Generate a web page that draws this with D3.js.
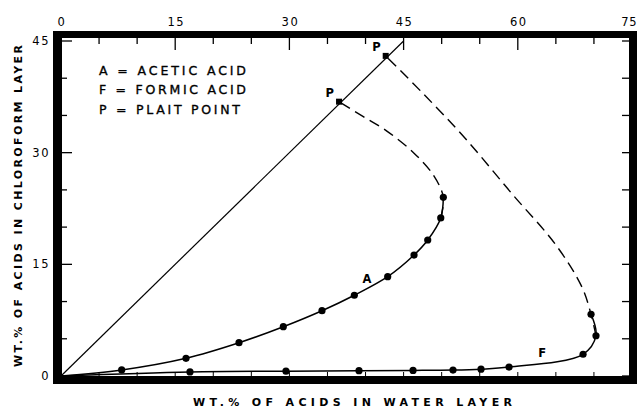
<!DOCTYPE html>
<html><head><meta charset="utf-8">
<script src="https://cdn.jsdelivr.net/npm/d3@7"></script>
<style>
html,body{margin:0;padding:0;background:#fff;}
svg{display:block;}
text{font-family:"DejaVu Sans",sans-serif;fill:#000;}
</style></head>
<body>
<svg id="chart" width="637" height="410"></svg>
<script>
// ---- data ----
const xTicks = [0, 15, 30, 45, 60, 75];
const yTicks = [0, 15, 30, 45];
const minorStep = 5;
const origin = [0, 0];
const aceticX = [7.97, 16.42, 23.38, 29.2, 34.28, 38.53, 42.91, 46.37, 48.17, 49.88, 50.22];
const aceticY = [0.81, 2.38, 4.47, 6.62, 8.77, 10.85, 13.34, 16.25, 18.27, 21.23, 24.0];
const aceticDashX = [50.22, 48.9, 46.3, 42.8, 39.6, 36.52];
const aceticDashY = [24.0, 27.0, 30.0, 32.9, 34.9, 36.85];
const formicX = [16.94, 29.55, 39.14, 46.24, 51.49, 55.17, 58.85, 68.57, 70.27, 69.62];
const formicY = [0.55, 0.65, 0.72, 0.75, 0.8, 0.92, 1.2, 2.92, 5.41, 8.29];
const formicDashX = [69.62, 68.4, 65.0, 59.3, 53.2, 47.6, 42.65];
const formicDashY = [8.29, 12.0, 17.6, 24.4, 31.8, 37.9, 43.0];
const plaitX = [36.52, 42.65];
const plaitY = [36.85, 43.0];
const tieX = [0, 45];
const tieY = [0, 45];
const legendLines = ["A = ACETIC ACID", "F = FORMIC ACID", "P = PLAIT POINT"];
const curveLabels = [{t:"A", x:40.2, y:12.5}, {t:"F", x:63.2, y:2.6}];
const xTitle = "WT.% OF ACIDS IN WATER LAYER";
const yTitle = "WT.% OF ACIDS IN CHLOROFORM LAYER";

// ---- layout ----
const L = 61, R = 632, T = 41, B = 376;
const svg = d3.select("#chart");
const x = d3.scaleLinear().domain([0, 75]).range([L, R]);
const y = d3.scaleLinear().domain([0, 45]).range([B, T]);
const zip = (xs, ys) => xs.map((v, i) => [v, ys[i]]);
const line = d3.line().x(d => x(d[0])).y(d => y(d[1])).curve(d3.curveCatmullRom.alpha(0.5));
const straight = d3.line().x(d => x(d[0])).y(d => y(d[1]));

// frame (thick bars outside plot area)
const g = svg.append("g");
g.append("rect").attr("x", 53).attr("y", 31).attr("width", 9).attr("height", 353);
g.append("rect").attr("x", 53).attr("y", 31).attr("width", 584).attr("height", 7);
g.append("rect").attr("x", 629).attr("y", 31).attr("width", 8).attr("height", 353);
g.append("rect").attr("x", 53).attr("y", 376).attr("width", 584).attr("height", 8);

const minorX = d3.range(0, 75 + 0.1, minorStep);
const minorY = d3.range(0, 45 + 0.1, minorStep);
// top ticks
g.selectAll(".tt").data(minorX).join("line")
  .attr("x1", d => x(d)).attr("x2", d => x(d))
  .attr("y1", 38).attr("y2", d => xTicks.includes(d) ? 50 : 44)
  .attr("stroke", "#000").attr("stroke-width", 1.3);
// bottom ticks
g.selectAll(".bt").data(minorX).join("line")
  .attr("x1", d => x(d)).attr("x2", d => x(d))
  .attr("y1", 376).attr("y2", 372)
  .attr("stroke", "#000").attr("stroke-width", 1);
// left ticks
g.selectAll(".lt").data(minorY).join("line")
  .attr("y1", d => y(d)).attr("y2", d => y(d))
  .attr("x1", 62).attr("x2", d => yTicks.includes(d) ? 72 : 67)
  .attr("stroke", "#000").attr("stroke-width", 1.3);
// right ticks
g.selectAll(".rt").data(minorY).join("line")
  .attr("y1", d => y(d)).attr("y2", d => y(d))
  .attr("x1", 629).attr("x2", 622)
  .attr("stroke", "#000").attr("stroke-width", 1.3);

// tick labels
const last = xTicks[xTicks.length - 1];
g.selectAll(".xl").data(xTicks).join("text")
  .attr("x", d => d === last ? 637 : x(d) + 1).attr("y", 26)
  .attr("text-anchor", d => d === last ? "end" : "middle")
  .attr("font-size", 11.5).attr("letter-spacing", d => d === last ? 0.5 : 1.5)
  .text(d => d);
g.selectAll(".yl").data(yTicks).join("text")
  .attr("x", 50).attr("y", d => y(d) + 4)
  .attr("text-anchor", "end").attr("font-size", 11.5).attr("letter-spacing", 1.5)
  .text(d => d);

// axis titles
g.append("text").attr("x", 193).attr("y", 406)
  .attr("font-size", 11).attr("font-weight", "bold")
  .attr("textLength", 319).attr("lengthAdjust", "spacing").text(xTitle);
g.append("text").attr("transform", "translate(22,367) rotate(-90)")
  .attr("font-size", 11).attr("font-weight", "bold")
  .attr("textLength", 322).attr("lengthAdjust", "spacing").text(yTitle);

// legend
g.selectAll(".leg").data(legendLines).join("text")
  .attr("x", 99).attr("y", (d, i) => 75 + i * 19.3)
  .attr("font-size", 12.5).attr("stroke", "#000").attr("stroke-width", 0.35)
  .attr("textLength", (d, i) => i === 2 ? 141 : 147).attr("lengthAdjust", "spacing")
  .text(d => d);

// tie line through plait points
g.append("path").attr("d", straight(zip(tieX, tieY)))
  .attr("fill", "none").attr("stroke", "#000").attr("stroke-width", 1.2);

// acetic
const aceticPts = zip(aceticX, aceticY);
g.append("path").attr("d", line([origin, ...aceticPts]))
  .attr("fill", "none").attr("stroke", "#000").attr("stroke-width", 1.5);
g.append("path").attr("d", line([aceticPts[aceticPts.length - 2], ...zip(aceticDashX, aceticDashY)]))
  .attr("fill", "none").attr("stroke", "#000").attr("stroke-width", 1.4)
  .attr("stroke-dasharray", "11,6");
// formic
const formicPts = zip(formicX, formicY);
g.append("path").attr("d", line([origin, ...formicPts]))
  .attr("fill", "none").attr("stroke", "#000").attr("stroke-width", 1.5);
g.append("path").attr("d", line([formicPts[formicPts.length - 2], ...zip(formicDashX, formicDashY)]))
  .attr("fill", "none").attr("stroke", "#000").attr("stroke-width", 1.4)
  .attr("stroke-dasharray", "11,6");

// points
g.selectAll(".pa").data(aceticPts.concat(formicPts)).join("circle")
  .attr("cx", d => x(d[0])).attr("cy", d => y(d[1])).attr("r", 3.6).attr("fill", "#000");

// plait points
const plait = zip(plaitX, plaitY);
g.selectAll(".pp").data(plait).join("rect")
  .attr("x", d => x(d[0]) - 3).attr("y", d => y(d[1]) - 3)
  .attr("width", 6).attr("height", 6).attr("fill", "#000");
g.selectAll(".ppl").data(plait).join("text")
  .attr("x", d => x(d[0]) - 5).attr("y", d => y(d[1]) - 5)
  .attr("text-anchor", "end").attr("font-size", 11.5).attr("font-weight", "bold")
  .text("P");

// curve labels
g.selectAll(".cl").data(curveLabels).join("text")
  .attr("x", d => x(d.x)).attr("y", d => y(d.y))
  .attr("text-anchor", "middle").attr("font-size", 11.5).attr("font-weight", "bold")
  .text(d => d.t);
</script>
</body></html>
